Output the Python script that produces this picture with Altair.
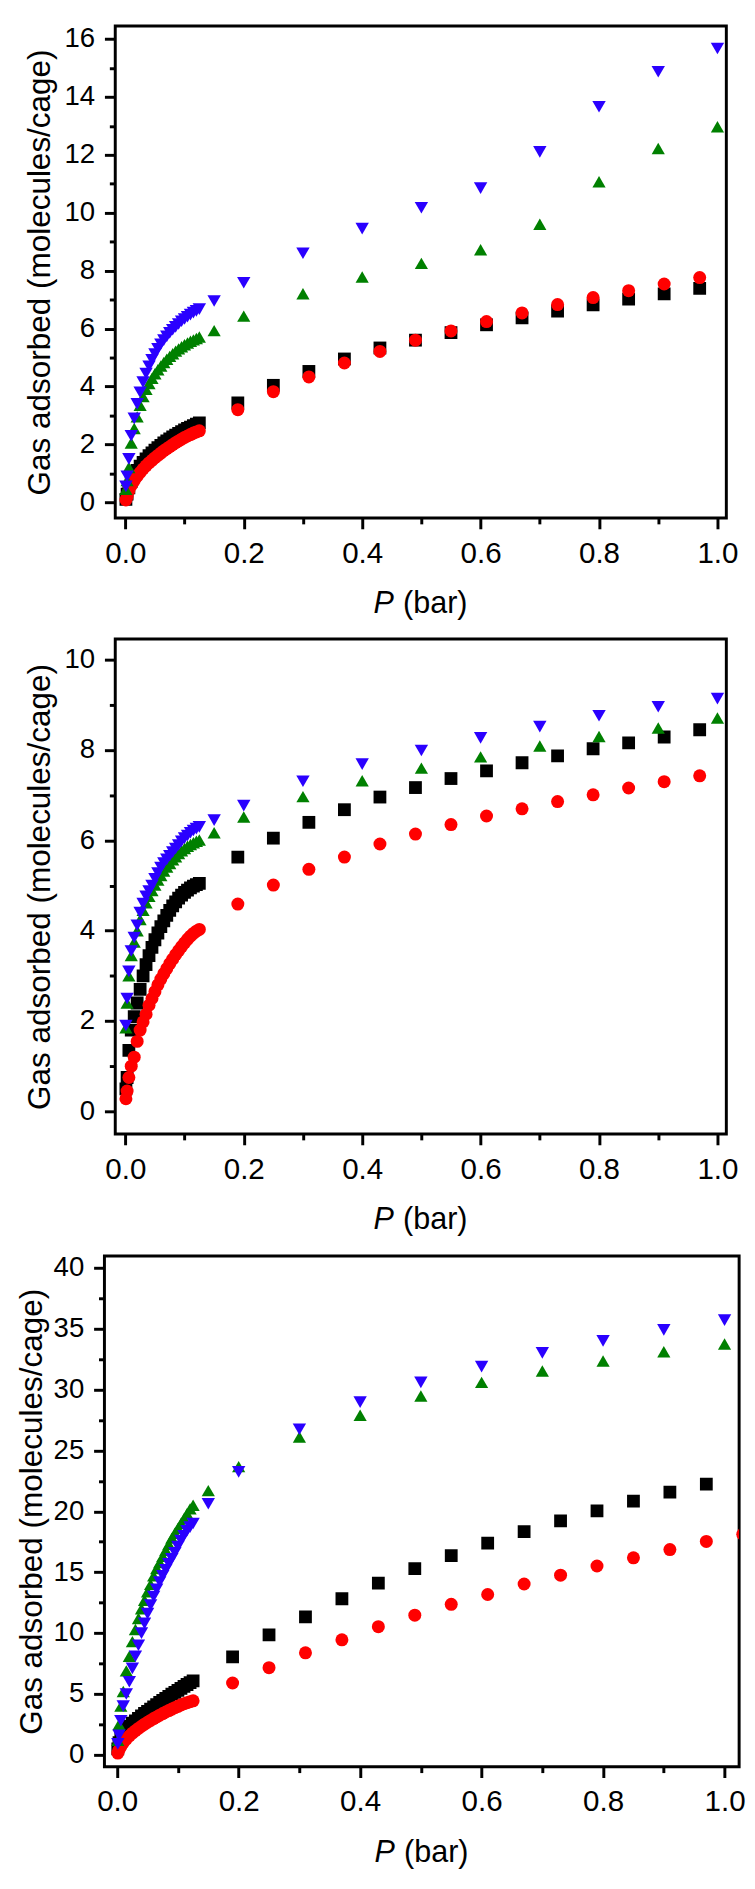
import altair as alt
import pandas as pd

FONT = "Liberation Sans"

# pressure grids (bar)
X_LOW = [0.001, 0.003, 0.006, 0.01, 0.015, 0.02, 0.025, 0.03, 0.035, 0.04, 0.045, 0.05, 0.055, 0.06,
         0.065, 0.07, 0.075, 0.08, 0.085, 0.09, 0.095, 0.1, 0.105, 0.11, 0.115, 0.12, 0.125]
X_SQ = [0.19, 0.25, 0.31, 0.37, 0.43, 0.49, 0.55, 0.61, 0.67, 0.73, 0.79, 0.85, 0.91, 0.97]
X_SQ_EXT = X_SQ + [1.03]
X_TRI = [0.15, 0.2, 0.3, 0.4, 0.5, 0.6, 0.7, 0.8, 0.9, 1.0]

# panel 1
A_BLACK = [0.1, 0.28, 0.5, 0.72, 0.93, 1.1, 1.25, 1.38, 1.5, 1.61, 1.71, 1.8, 1.89, 1.97, 2.05, 2.12, 2.19,
           2.26, 2.32, 2.38, 2.44, 2.5, 2.55, 2.6, 2.65, 2.7, 2.74,
           3.43, 4.04, 4.52, 4.95, 5.33, 5.6, 5.86, 6.13, 6.37, 6.6, 6.82, 7.02, 7.2, 7.39]
A_RED = [0.08, 0.2, 0.4, 0.58, 0.75, 0.9, 1.03, 1.15, 1.26, 1.36, 1.45, 1.54, 1.62, 1.7, 1.78, 1.85, 1.92,
         1.99, 2.06, 2.12, 2.18, 2.24, 2.29, 2.34, 2.39, 2.43, 2.47,
         3.2, 3.82, 4.33, 4.81, 5.21, 5.6, 5.92, 6.24, 6.54, 6.83, 7.07, 7.31, 7.54, 7.76]
A_GREEN = [0.45, 0.75, 1.2, 2.05, 2.55, 2.95, 3.35, 3.65, 3.9, 4.1, 4.28, 4.44, 4.58, 4.71, 4.83, 4.94, 5.04,
           5.13, 5.22, 5.3, 5.37, 5.44, 5.5, 5.56, 5.61, 5.66, 5.71,
           5.93, 6.43, 7.2, 7.78, 8.25, 8.72, 9.6, 11.07, 12.22, 12.97]
A_BLUE = [0.55, 0.9, 1.5, 2.3, 2.9, 3.4, 3.8, 4.15, 4.45, 4.7, 4.92, 5.12, 5.3, 5.46, 5.6, 5.73, 5.85,
          5.96, 6.06, 6.16, 6.25, 6.33, 6.41, 6.48, 6.55, 6.61, 6.67,
          6.95, 7.58, 8.6, 9.45, 10.17, 10.85, 12.1, 13.66, 14.87, 15.67]

# panel 2
B_BLACK = [0.5, 0.75, 1.35, 1.8, 2.1, 2.4, 2.7, 3.0, 3.25, 3.45, 3.63, 3.8, 3.95, 4.09, 4.22, 4.34, 4.45,
           4.55, 4.64, 4.72, 4.79, 4.85, 4.9, 4.95, 4.99, 5.02, 5.05,
           5.63, 6.05, 6.4, 6.68, 6.96, 7.17, 7.37, 7.54, 7.72, 7.87, 8.03, 8.16, 8.29, 8.45]
B_RED = [0.28, 0.45, 0.75, 1.0, 1.2, 1.55, 1.8, 1.98, 2.15, 2.35, 2.5, 2.65, 2.8, 2.93, 3.05, 3.16, 3.27,
         3.37, 3.47, 3.56, 3.65, 3.73, 3.81, 3.88, 3.94, 3.99, 4.03,
         4.59, 5.01, 5.36, 5.63, 5.92, 6.14, 6.35, 6.54, 6.7, 6.86, 7.01, 7.16, 7.3, 7.43]
B_GREEN = [1.85, 2.4, 3.0, 3.45, 3.75, 4.0, 4.25, 4.45, 4.62, 4.76, 4.89, 5.01, 5.12, 5.22, 5.32, 5.41, 5.49,
           5.57, 5.64, 5.71, 5.77, 5.82, 5.87, 5.91, 5.95, 5.98, 6.01,
           6.17, 6.52, 6.97, 7.32, 7.6, 7.85, 8.09, 8.3, 8.49, 8.71]
B_BLUE = [1.9, 2.5, 3.1, 3.55, 3.85, 4.12, 4.4, 4.6, 4.76, 4.88, 5.0, 5.15, 5.28, 5.4, 5.5, 5.58, 5.66,
          5.74, 5.82, 5.9, 5.98, 6.05, 6.11, 6.17, 6.22, 6.26, 6.3,
          6.45, 6.77, 7.31, 7.69, 7.99, 8.27, 8.52, 8.76, 8.96, 9.14]

# panel 3
C_BLACK = [0.5, 1.0, 1.4, 1.8, 2.1, 2.35, 2.6, 2.8, 3.0, 3.2, 3.4, 3.58, 3.76, 3.94, 4.12, 4.3, 4.47,
           4.64, 4.81, 4.98, 5.14, 5.3, 5.46, 5.62, 5.78, 5.93, 6.08,
           8.05, 9.85, 11.33, 12.82, 14.11, 15.29, 16.37, 17.39, 18.34, 19.22, 20.03, 20.84, 21.57, 22.24]
C_RED = [0.15, 0.4, 0.7, 1.0, 1.3, 1.55, 1.78, 1.98, 2.17, 2.35, 2.52, 2.68, 2.83, 2.98, 3.12, 3.26, 3.39,
         3.52, 3.64, 3.76, 3.88, 3.99, 4.1, 4.2, 4.29, 4.37, 4.44,
         5.9, 7.16, 8.38, 9.45, 10.53, 11.47, 12.36, 13.17, 14.03, 14.76, 15.51, 16.18, 16.86, 17.53, 18.12]
C_GREEN = [1.2, 2.5, 4.0, 5.2, 6.9, 8.1, 9.3, 10.3, 11.2, 12.0, 12.7, 13.4, 14.0, 14.7, 15.3, 15.8, 16.3,
           16.8, 17.3, 17.8, 18.2, 18.6, 19.0, 19.4, 19.8, 20.2, 20.5,
           21.7, 23.67, 26.1, 27.89, 29.47, 30.59, 31.53, 32.34, 33.1, 33.74]
C_BLUE = [0.9, 1.6, 2.8, 4.0, 5.0, 6.0, 7.1, 8.1, 9.0, 10.0, 10.8, 11.6, 12.3, 13.0, 13.6, 14.2, 14.7,
          15.2, 15.7, 16.1, 16.6, 17.1, 17.6, 18.0, 18.4, 18.7, 19.0,
          20.62, 23.24, 26.74, 28.97, 30.59, 31.88, 33.01, 34.0, 34.9, 35.7]

SERIES = ["black", "red", "green", "blue"]
COLORS = ["#000000", "#ff0000", "#008000", "#2a00ff"]
SHAPES = ["square", "circle", "triangle-up", "triangle-down"]
SIZES = [169, 185, 270, 270]

X_TICKS = [0.0, 0.1, 0.2, 0.3, 0.4, 0.5, 0.6, 0.7, 0.8, 0.9, 1.0]
Y_TICKS_A = [0, 1, 2, 3, 4, 5, 6, 7, 8, 9, 10, 11, 12, 13, 14, 15, 16]
Y_TICKS_B = [0, 1, 2, 3, 4, 5, 6, 7, 8, 9, 10]
Y_TICKS_C = [0, 2.5, 5, 7.5, 10, 12.5, 15, 17.5, 20, 22.5, 25, 27.5, 30, 32.5, 35, 37.5, 40]

# minor ticks: same length, but dashed so only the part next to the frame shows
MINOR_DASH = [6, 40]


def frame(black, red, green, blue, red_x):
    rows = []
    for name, xs, ys in [("black", X_LOW + X_SQ, black), ("red", X_LOW + red_x, red),
                         ("green", X_LOW + X_TRI, green), ("blue", X_LOW + X_TRI, blue)]:
        for x, y in zip(xs, ys):
            rows.append({"p": x, "n": y, "series": name, "k": len(rows)})
    return pd.DataFrame(rows)


def panel(df, x_dom, y_dom, y_ticks, y_major, width, height, title_x):
    x_major = "round(datum.value * 10) % 2 == 0"
    x_axis = alt.Axis(
        values=X_TICKS, labelExpr=f"{x_major} ? format(datum.value, '.1f') : ''",
        tickSize=11, tickDash={"condition": {"test": x_major, "value": [11, 0]}, "value": MINOR_DASH},
        labelFontSize=30, labelPadding=10, labelFlush=False, labelOverlap=False,
    )
    y_axis = alt.Axis(
        values=y_ticks, labelExpr=f"{y_major} ? datum.label : ''",
        tickSize=11, tickDash={"condition": {"test": y_major, "value": [11, 0]}, "value": MINOR_DASH},
        labelFontSize=28, labelPadding=10, labelFlush=False, labelOverlap=False,
        title="Gas adsorbed (molecules/cage)", titleFontSize=32,
        titleX=title_x, titleY=height / 2, titleAlign="center", titleBaseline="middle",
    )
    pts = alt.Chart(df).mark_point(filled=True, opacity=1, strokeWidth=0, clip=True).encode(
        x=alt.X("p:Q", scale=alt.Scale(domain=x_dom, nice=False, zero=False), axis=x_axis, title=None),
        y=alt.Y("n:Q", scale=alt.Scale(domain=y_dom, nice=False, zero=False), axis=y_axis),
        color=alt.Color("series:N", scale=alt.Scale(domain=SERIES, range=COLORS), legend=None),
        shape=alt.Shape("series:N", scale=alt.Scale(domain=SERIES, range=SHAPES), legend=None),
        size=alt.Size("series:N", scale=alt.Scale(domain=SERIES, range=SIZES), legend=None),
        order=alt.Order("k:Q"),
    )
    p_lab = alt.Chart(pd.DataFrame({"t": ["P"]})).mark_text(
        font=FONT, fontSize=31, fontStyle="italic", align="left", baseline="middle", color="black"
    ).encode(x=alt.value(width / 2 - 48), y=alt.value(height + 88), text="t:N")
    unit_lab = alt.Chart(pd.DataFrame({"t": ["(bar)"]})).mark_text(
        font=FONT, fontSize=31, align="left", baseline="middle", color="black"
    ).encode(x=alt.value(width / 2 - 18), y=alt.value(height + 88), text="t:N")
    return alt.layer(pts, p_lab, unit_lab).properties(
        width=width, height=height,
        view=alt.ViewBackground(stroke="black", strokeWidth=3),
    )


def spacer():
    # invisible 1px cell; the gap after it sets how far right each panel sits
    return alt.Chart(pd.DataFrame({"a": [0]})).mark_point(opacity=0).encode(
        x=alt.value(0), y=alt.value(0)
    ).properties(width=1, height=1, view=alt.ViewBackground(stroke="transparent", strokeWidth=0))


top = panel(frame(A_BLACK, A_RED, A_GREEN, A_BLUE, X_SQ), [-0.017, 1.015], [-0.54, 16.45],
            Y_TICKS_A, "datum.value % 2 == 0", 621, 500, -77)
mid = panel(frame(B_BLACK, B_RED, B_GREEN, B_BLUE, X_SQ), [-0.017, 1.015], [-0.5, 10.46],
            Y_TICKS_B, "datum.value % 2 == 0", 621, 503, -77)
bot = panel(frame(C_BLACK, C_RED, C_GREEN, C_BLUE, X_SQ_EXT), [-0.021, 1.024], [-0.97, 40.97],
            Y_TICKS_C, "datum.value % 5 == 0", 645, 519, -74)

row1 = alt.hconcat(spacer(), top, spacing=8)
row2 = alt.hconcat(spacer(), mid, spacing=8)
row3 = alt.hconcat(spacer(), bot, spacing=0)

chart = alt.vconcat(row1, row2, row3, spacing=15).properties(
    padding=0
).configure_view(
    stroke=None
).configure_axis(
    labelFont=FONT, titleFont=FONT, labelColor="black", titleColor="black",
    tickColor="black", tickWidth=3, domain=False, grid=False, titleFontWeight="normal",
)

chart.save("out.html", embed_options={"renderer": "svg", "actions": False})
